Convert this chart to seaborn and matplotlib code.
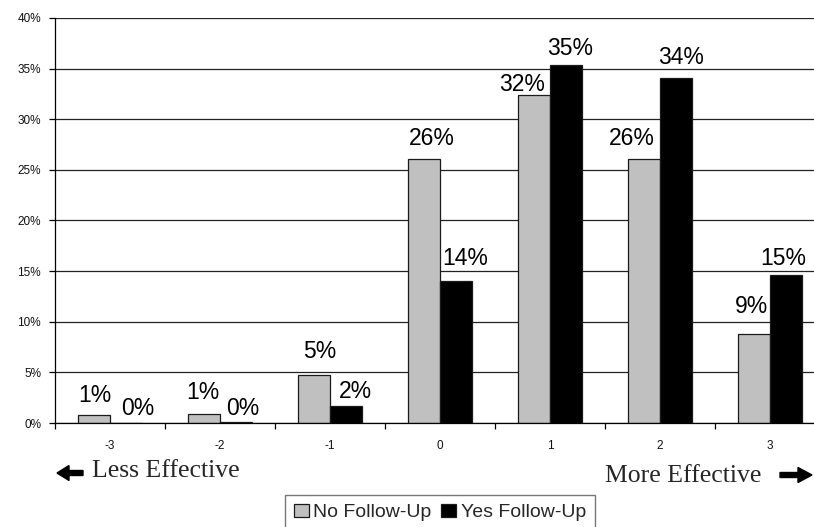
import matplotlib
matplotlib.use("Agg")
import matplotlib.pyplot as plt
from matplotlib.patches import FancyArrow
from matplotlib.transforms import IdentityTransform
import seaborn as sns
import pandas as pd

# Effectiveness ratings and share of responses (%) per follow-up group
ratings = ["-3", "-2", "-1", "0", "1", "2", "3"]
no_followup = [0.76, 0.86, 4.74, 26.04, 32.4, 26.07, 8.76]
yes_followup = [0.0, 0.1, 1.65, 14.0, 35.36, 34.1, 14.65]
groups = ["No Follow-Up", "Yes Follow-Up"]
y_ticks = [0, 5, 10, 15, 20, 25, 30, 35, 40]

# hand-placed nudges (pixels) for the value labels of each group
label_dx = {"No Follow-Up": [1, -1, 5.5, 7.7, -12, -12, -2],
            "Yes Follow-Up": [12, 7, 9, 9, 4, 5, -2.5]}
label_dy = {"No Follow-Up": [13, 15, 17, 14, 4, 14, 21],
            "Yes Follow-Up": [8, 7, 8, 16, 10, 14, 10]}

df = pd.DataFrame({
    "rating": ratings * 2,
    "pct": no_followup + yes_followup,
    "group": [groups[0]] * len(ratings) + [groups[1]] * len(ratings),
})

sns.set_style("white")
plt.rcParams["font.family"] = ["Liberation Sans", "DejaVu Sans"]

W, H = 814, 527
fig = plt.figure(figsize=(W / 100, H / 100), dpi=100)
ax = fig.add_axes([55 / W, 104 / H, 770 / W, 405 / H])

sns.barplot(data=df, x="rating", y="pct", hue="group", order=ratings,
            hue_order=groups, palette={groups[0]: "#C0C0C0", groups[1]: "#000000"},
            width=0.59, saturation=1, edgecolor="#1a1a1a", linewidth=0.9,
            errorbar=None, ax=ax)

ax.set_xlim(-0.5, len(ratings) - 0.5)
ax.set_ylim(0, 40)
ax.set_yticks(y_ticks)
ax.set_yticklabels([f"{t}%" for t in y_ticks])
ax.set_xlabel("")
ax.set_ylabel("")
ax.yaxis.grid(True, color="#222222", linewidth=0.9)
ax.set_axisbelow(True)

ax.spines["right"].set_visible(False)
ax.spines["top"].set_visible(False)
for side in ["left", "bottom"]:
    ax.spines[side].set_color("black")
    ax.spines[side].set_linewidth(0.9)

ax.tick_params(axis="y", which="major", direction="out", length=4, width=0.9,
               color="black", left=True, pad=6, labelsize=8.5, labelcolor="#111111")
ax.set_xticks([i + 0.5 for i in range(-1, len(ratings))], minor=True)
ax.tick_params(axis="x", which="minor", direction="out", length=4, width=0.9,
               color="black", bottom=True)
ax.tick_params(axis="x", which="major", length=0, pad=12.5, labelsize=8.5,
               labelcolor="#111111")

# value labels above each bar
for cont, grp in zip(ax.containers, groups):
    vals = no_followup if grp == groups[0] else yes_followup
    for i, (bar, v) in enumerate(zip(cont.patches, vals)):
        ax.annotate(f"{v:.0f}%",
                    xy=(bar.get_x() + bar.get_width() / 2, bar.get_height()),
                    xytext=(label_dx[grp][i], label_dy[grp][i]),
                    textcoords="offset pixels", ha="center", va="baseline",
                    fontsize=16.5, color="black")

# legend below the axis
handles, labels = ax.get_legend_handles_labels()
ax.legend_.remove()
fig.legend(handles, labels, loc="upper center", bbox_to_anchor=(440 / W, 1 - 495 / H),
           ncol=2, frameon=True, fancybox=False, edgecolor="#555555",
           fontsize=14, handlelength=0.75, handleheight=0.7, handletextpad=0.25,
           columnspacing=0.5, borderpad=0.45, borderaxespad=0)
fig.legends[0].get_frame().set_linewidth(1.0)

# direction captions with arrows
serif = ["Liberation Serif", "DejaVu Serif"]
fig.text(91.7 / W, (H - 477) / H, "Less Effective", family=serif, fontsize=18.5,
         ha="left", va="baseline")
fig.text(605 / W, (H - 481.5) / H, "More Effective", family=serif, fontsize=18.5,
         ha="left", va="baseline")
fig.patches.append(FancyArrow(83, H - 473, -26, 0, width=5, head_width=15,
                              head_length=12, length_includes_head=True,
                              color="black", transform=IdentityTransform(),
                              figure=fig))
fig.patches.append(FancyArrow(780, H - 475, 32, 0, width=5, head_width=15,
                              head_length=14, length_includes_head=True,
                              color="black", transform=IdentityTransform(),
                              figure=fig))

fig.savefig("out.png", dpi=100)
